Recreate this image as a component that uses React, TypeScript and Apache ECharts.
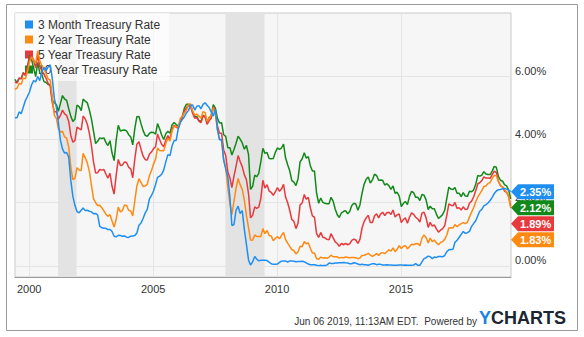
import React, { useEffect, useRef } from 'react';
import * as echarts from 'echarts';

// Monthly observations, Jun 1999 .. Jun 2019 (last = Jun 06 2019)
const seriesNames = ['3 Month Treasury Rate', '2 Year Treasury Rate', '5 Year Treasury Rate', '10 Year Treasury Rate'];
const seriesColors = ['#1f8ef1', '#ff8a12', '#e8393d', '#12891a'];

const rate3m = [
  4.69, 4.69, 4.87, 4.82, 5.02, 5.23, 5.36,
  5.50, 5.73, 5.86, 5.82, 5.99, 5.86, 6.14, 6.28, 6.18, 6.29, 6.36, 5.94,
  5.29, 5.01, 4.54, 3.97, 3.70, 3.57, 3.59, 3.44, 2.69, 2.20, 1.91, 1.72,
  1.68, 1.76, 1.83, 1.75, 1.76, 1.73, 1.71, 1.65, 1.66, 1.61, 1.25, 1.21,
  1.19, 1.19, 1.15, 1.15, 1.09, 0.94, 0.92, 0.97, 0.96, 0.94, 0.95, 0.91,
  0.90, 0.94, 0.95, 0.96, 1.04, 1.29, 1.36, 1.50, 1.68, 1.79, 2.11, 2.22,
  2.37, 2.58, 2.80, 2.84, 2.90, 3.04, 3.29, 3.52, 3.49, 3.79, 3.97, 3.97,
  4.34, 4.54, 4.63, 4.72, 4.84, 4.92, 5.08, 5.09, 4.93, 5.05, 5.07, 4.97,
  5.11, 5.16, 5.08, 5.01, 4.87, 4.74, 4.96, 4.32, 3.99, 4.00, 3.35, 3.07,
  2.82, 2.17, 1.28, 1.31, 1.76, 1.89, 1.66, 1.75, 1.15, 0.69, 0.19, 0.03,
  0.13, 0.30, 0.22, 0.16, 0.18, 0.18, 0.18, 0.17, 0.12, 0.07, 0.05, 0.05,
  0.06, 0.11, 0.15, 0.16, 0.16, 0.12, 0.16, 0.16, 0.15, 0.13, 0.14, 0.14,
  0.15, 0.13, 0.10, 0.06, 0.04, 0.04, 0.04, 0.02, 0.01, 0.02, 0.01, 0.01,
  0.03, 0.09, 0.08, 0.08, 0.09, 0.09, 0.10, 0.10, 0.11, 0.10, 0.09, 0.07,
  0.07, 0.10, 0.09, 0.06, 0.04, 0.05, 0.04, 0.04, 0.02, 0.05, 0.07, 0.07,
  0.04, 0.05, 0.05, 0.03, 0.03, 0.04, 0.03, 0.03, 0.02, 0.02, 0.02, 0.03,
  0.03, 0.02, 0.03, 0.02, 0.02, 0.02, 0.03, 0.07, 0.02, 0.02, 0.13, 0.23,
  0.26, 0.31, 0.29, 0.23, 0.28, 0.27, 0.30, 0.30, 0.29, 0.33, 0.45, 0.51,
  0.52, 0.53, 0.75, 0.81, 0.90, 1.00, 1.09, 1.03, 1.05, 1.09, 1.25, 1.34,
  1.43, 1.59, 1.73, 1.79, 1.90, 1.94, 1.99, 2.07, 2.17, 2.29, 2.37, 2.41,
  2.42, 2.44, 2.45, 2.43, 2.40, 2.35,
];

const rate2y = [
  5.59, 5.62, 5.77, 5.75, 5.94, 5.92, 6.14,
  6.44, 6.61, 6.53, 6.40, 6.81, 6.48, 6.34, 6.23, 6.08, 5.91, 5.88, 5.35,
  4.76, 4.66, 4.34, 4.23, 4.26, 4.08, 4.04, 3.76, 3.12, 2.73, 2.78, 3.11,
  3.03, 3.02, 3.56, 3.42, 3.26, 2.99, 2.56, 2.13, 2.00, 1.91, 1.92, 1.84,
  1.74, 1.63, 1.57, 1.62, 1.42, 1.23, 1.47, 1.86, 1.71, 1.75, 1.93, 1.91,
  1.76, 1.74, 1.58, 2.07, 2.53, 2.76, 2.64, 2.51, 2.53, 2.58, 2.85, 3.01,
  3.22, 3.38, 3.73, 3.65, 3.64, 3.64, 3.87, 4.04, 3.95, 4.27, 4.42, 4.40,
  4.40, 4.67, 4.73, 4.84, 4.92, 5.12, 5.12, 4.90, 4.77, 4.80, 4.74, 4.67,
  4.88, 4.85, 4.57, 4.67, 4.77, 5.00, 4.82, 4.31, 4.01, 3.97, 3.34, 3.12,
  2.48, 1.97, 1.62, 2.05, 2.45, 2.77, 2.57, 2.42, 2.08, 1.61, 1.21, 0.82,
  0.81, 0.98, 0.93, 0.93, 0.93, 1.18, 1.02, 1.12, 0.96, 0.95, 0.80, 0.87,
  0.93, 0.86, 0.96, 1.06, 0.83, 0.72, 0.62, 0.52, 0.48, 0.38, 0.45, 0.62,
  0.61, 0.77, 0.70, 0.73, 0.56, 0.41, 0.41, 0.23, 0.21, 0.28, 0.25, 0.26,
  0.24, 0.28, 0.34, 0.29, 0.29, 0.29, 0.25, 0.27, 0.26, 0.28, 0.27, 0.26,
  0.27, 0.27, 0.26, 0.23, 0.25, 0.33, 0.34, 0.36, 0.40, 0.34, 0.30, 0.34,
  0.39, 0.33, 0.40, 0.42, 0.39, 0.45, 0.51, 0.47, 0.57, 0.45, 0.53, 0.64,
  0.55, 0.62, 0.64, 0.54, 0.61, 0.69, 0.67, 0.70, 0.71, 0.64, 0.88, 0.98,
  0.90, 0.73, 0.88, 0.77, 0.82, 0.73, 0.67, 0.74, 0.77, 0.84, 0.98, 1.20,
  1.21, 1.20, 1.31, 1.24, 1.30, 1.34, 1.37, 1.34, 1.38, 1.55, 1.70, 1.84,
  2.03, 2.18, 2.28, 2.38, 2.51, 2.53, 2.61, 2.64, 2.77, 2.86, 2.86, 2.68,
  2.54, 2.50, 2.41, 2.34, 2.21, 1.83,
];

const rate5y = [
  5.81, 5.79, 5.94, 5.92, 6.11, 6.03, 6.28,
  6.58, 6.68, 6.50, 6.26, 6.69, 6.30, 6.18, 6.06, 5.93, 5.78, 5.70, 5.17,
  4.86, 4.89, 4.64, 4.76, 4.93, 4.81, 4.76, 4.57, 4.12, 3.91, 3.97, 4.39,
  4.34, 4.30, 4.74, 4.65, 4.49, 4.19, 3.81, 3.29, 2.94, 2.95, 3.05, 3.03,
  3.05, 2.90, 2.78, 2.93, 2.52, 2.27, 2.87, 3.37, 3.18, 3.19, 3.29, 3.27,
  3.12, 3.07, 2.79, 3.39, 3.85, 3.93, 3.69, 3.47, 3.36, 3.35, 3.53, 3.60,
  3.71, 3.77, 4.17, 4.00, 3.85, 3.77, 3.98, 4.12, 4.01, 4.33, 4.45, 4.39,
  4.35, 4.57, 4.72, 4.90, 5.00, 5.07, 5.04, 4.82, 4.67, 4.69, 4.58, 4.53,
  4.75, 4.71, 4.48, 4.59, 4.67, 5.03, 4.88, 4.43, 4.20, 4.20, 3.67, 3.49,
  2.98, 2.78, 2.48, 2.84, 3.15, 3.49, 3.30, 3.14, 2.88, 2.73, 2.29, 1.52,
  1.60, 1.87, 1.82, 1.86, 2.13, 2.71, 2.46, 2.57, 2.37, 2.33, 2.23, 2.34,
  2.48, 2.36, 2.43, 2.58, 2.18, 2.00, 1.76, 1.47, 1.41, 1.18, 1.35, 1.93,
  1.99, 2.26, 2.11, 2.17, 1.84, 1.58, 1.54, 1.02, 0.90, 1.06, 0.91, 0.89,
  0.84, 0.83, 1.02, 0.89, 0.76, 0.71, 0.62, 0.71, 0.67, 0.71, 0.67, 0.70,
  0.81, 0.85, 0.82, 0.71, 0.84, 1.20, 1.40, 1.52, 1.60, 1.37, 1.37, 1.58,
  1.65, 1.52, 1.64, 1.70, 1.59, 1.68, 1.70, 1.63, 1.77, 1.55, 1.62, 1.64,
  1.37, 1.47, 1.52, 1.35, 1.54, 1.68, 1.63, 1.54, 1.49, 1.39, 1.67, 1.70,
  1.52, 1.22, 1.38, 1.26, 1.30, 1.17, 1.07, 1.13, 1.18, 1.27, 1.60, 1.96,
  1.92, 1.90, 2.01, 1.82, 1.84, 1.77, 1.87, 1.78, 1.80, 1.98, 2.05, 2.18,
  2.38, 2.60, 2.63, 2.70, 2.82, 2.78, 2.78, 2.77, 2.89, 3.00, 2.95, 2.68,
  2.54, 2.49, 2.37, 2.33, 2.19, 1.89,
];

const rate10y = [
  5.90, 5.79, 5.94, 5.92, 6.11, 6.03, 6.28,
  6.66, 6.52, 6.26, 5.99, 6.44, 6.10, 6.05, 5.83, 5.80, 5.74, 5.72, 5.24,
  5.16, 5.10, 4.89, 5.14, 5.39, 5.28, 5.24, 4.97, 4.73, 4.57, 4.65, 5.09,
  5.04, 4.91, 5.28, 5.21, 5.16, 4.93, 4.65, 4.26, 3.87, 3.94, 4.05, 4.03,
  4.05, 3.90, 3.81, 3.96, 3.57, 3.33, 3.98, 4.45, 4.27, 4.29, 4.30, 4.27,
  4.15, 4.08, 3.83, 4.35, 4.72, 4.73, 4.50, 4.28, 4.13, 4.10, 4.19, 4.23,
  4.22, 4.17, 4.50, 4.34, 4.14, 4.00, 4.18, 4.26, 4.20, 4.46, 4.54, 4.47,
  4.42, 4.57, 4.72, 4.99, 5.11, 5.11, 5.09, 4.88, 4.72, 4.73, 4.60, 4.56,
  4.76, 4.72, 4.56, 4.69, 4.75, 5.10, 5.00, 4.67, 4.52, 4.53, 4.15, 4.10,
  3.74, 3.74, 3.51, 3.68, 3.88, 4.10, 4.01, 3.89, 3.69, 3.81, 3.53, 2.42,
  2.52, 2.87, 2.82, 2.93, 3.29, 3.72, 3.56, 3.59, 3.40, 3.39, 3.40, 3.59,
  3.73, 3.69, 3.73, 3.85, 3.42, 3.20, 3.01, 2.70, 2.65, 2.54, 2.76, 3.29,
  3.39, 3.58, 3.41, 3.46, 3.17, 3.00, 3.00, 2.30, 1.98, 2.15, 2.01, 1.98,
  1.97, 1.97, 2.17, 2.05, 1.80, 1.62, 1.53, 1.68, 1.72, 1.75, 1.65, 1.72,
  1.91, 1.98, 1.96, 1.76, 1.93, 2.30, 2.58, 2.74, 2.81, 2.62, 2.72, 2.90,
  2.86, 2.71, 2.72, 2.71, 2.56, 2.60, 2.54, 2.42, 2.53, 2.30, 2.33, 2.21,
  1.88, 1.98, 2.04, 1.94, 2.20, 2.36, 2.32, 2.17, 2.17, 2.07, 2.26, 2.24,
  2.09, 1.78, 1.89, 1.81, 1.81, 1.64, 1.50, 1.56, 1.63, 1.76, 2.14, 2.49,
  2.43, 2.42, 2.48, 2.30, 2.30, 2.19, 2.32, 2.21, 2.20, 2.36, 2.35, 2.40,
  2.58, 2.86, 2.84, 2.87, 2.98, 2.91, 2.89, 2.89, 3.00, 3.15, 3.12, 2.83,
  2.71, 2.68, 2.57, 2.53, 2.40, 2.12,
];

const recessions = [
  ['2001-03-01', '2001-11-30'],
  ['2007-12-01', '2009-06-30'],
];

const xTickYears = [2000, 2005, 2010, 2015];
const yTickValues = [0, 2, 4, 6];
const xStart = '1999-06-06';
const xEnd = '2019-06-10';
const yMin = -0.35;
const yMax = 8;
const footerText = 'Jun 06 2019, 11:13AM EDT.  Powered by';

function pad(n: number) {
  return n < 10 ? '0' + n : '' + n;
}
function ts(d: string) {
  return new Date(d + 'T00:00:00Z').getTime();
}
// month dates: Jun 1999 onwards, day 6
const dates: string[] = rate3m.map((_, i) => {
  const m = 5 + i;
  const y = 1999 + Math.floor(m / 12);
  return `${y}-${pad((m % 12) + 1)}-06`;
});

const allSeries = [rate3m, rate2y, rate5y, rate10y];
const FONT = '"Liberation Sans", Arial, sans-serif';

export default function App() {
  const ref = useRef<HTMLDivElement>(null);
  useEffect(() => {
    document.body.style.margin = '0';
    if (!ref.current) return;
    const chart = echarts.init(ref.current, null, { renderer: 'svg' });
    const xTicks = xTickYears.map((y) => ts(`${y}-01-01`));

    const staticGraphics: any[] = [
      {
        type: 'rect',
        shape: { x: 6.5, y: 4.5, width: 571, height: 326 },
        style: { fill: 'none', stroke: '#9a9a9a', lineWidth: 1 },
        silent: true,
      },
      {
        type: 'text',
        x: 477,
        y: 321,
        style: {
          text: footerText,
          fill: '#333',
          font: `10px ${FONT}`,
          align: 'right',
          verticalAlign: 'middle',
        },
      },
      {
        type: 'text',
        x: 479,
        y: 318,
        style: {
          text: '{a|Y}{b|CHARTS}',
          verticalAlign: 'middle',
          rich: {
            a: { fill: '#1b82e2', fontWeight: 'bold', fontSize: 18, fontFamily: FONT },
            b: { fill: '#1c2631', fontWeight: 'bold', fontSize: 18, fontFamily: FONT },
          },
        },
      },
    ];

    const option: any = {
      animation: false,
      color: seriesColors,
      textStyle: { fontFamily: FONT },
      grid: {
        left: 15,
        top: 13,
        right: 73,
        bottom: 60,
        show: true,
        backgroundColor: '#f6f6f6',
        borderColor: '#c9c9c9',
        borderWidth: 1,
      },
      legend: {
        left: 15,
        top: 13,
        orient: 'vertical',
        backgroundColor: 'rgba(255,255,255,0.65)',
        padding: [4, 9, 4, 10],
        itemGap: 0,
        itemWidth: 8,
        itemHeight: 8,
        icon: 'rect',
        textStyle: { fontSize: 12, color: '#333', lineHeight: 15 },
        data: seriesNames,
      },
      xAxis: {
        type: 'value',
        min: ts(xStart),
        max: ts(xEnd),
        axisLine: { show: true, onZero: false, lineStyle: { color: '#9a9a9a' } },
        axisTick: { show: false, customValues: xTicks },
        axisLabel: {
          customValues: xTicks,
          formatter: (v: number) => String(new Date(v).getUTCFullYear()),
          color: '#333',
          fontSize: 11,
          margin: 6,
        },
        splitLine: { show: true, lineStyle: { color: '#e4e4e4', width: 1 } },
      },
      yAxis: {
        type: 'value',
        position: 'right',
        min: yMin,
        max: yMax,
        axisLine: { show: false },
        axisTick: { show: false, customValues: yTickValues },
        axisLabel: {
          customValues: yTickValues,
          formatter: (v: number) => v.toFixed(2) + '%',
          color: '#333',
          fontSize: 11,
          margin: 4,
          verticalAlign: 'bottom',
        },
        splitLine: { show: true, lineStyle: { color: '#e4e4e4', width: 1 } },
      },
      series: seriesNames.map((name, si) => ({
        name,
        type: 'line',
        showSymbol: false,
        symbol: 'none',
        z: 10 - si,
        lineStyle: { width: 1.5 },
        data: dates.map((d, i) => [ts(d), allSeries[si][i]]),
        markArea:
          si === 0
            ? {
                silent: true,
                itemStyle: { color: '#e3e3e3' },
                data: recessions.map(([a, b]) => [{ xAxis: ts(a) }, { xAxis: ts(b) }]),
              }
            : undefined,
      })),
      graphic: { elements: staticGraphics },
    };
    chart.setOption(option);

    // End-value tags, positioned through the chart's scales
    const last = dates.length - 1;
    const items = allSeries
      .map((arr, si) => ({
        si,
        v: arr[last],
        p: chart.convertToPixel({ gridIndex: 0 }, [ts(dates[last]), arr[last]]) as number[],
      }))
      .sort((a, b) => b.v - a.v);
    const tagGraphics: any[] = [];
    let prevY = -1e9;
    const x0 = (chart.convertToPixel({ gridIndex: 0 }, [ts(xEnd), 0]) as number[])[0];
    items.forEach((it) => {
      const cy = Math.max(it.p[1], prevY + 16);
      prevY = cy;
      tagGraphics.push({
        type: 'polygon',
        shape: {
          points: [
            [x0, cy],
            [x0 + 7, cy - 7.5],
            [x0 + 43, cy - 7.5],
            [x0 + 43, cy + 7.5],
            [x0 + 7, cy + 7.5],
          ],
        },
        style: { fill: seriesColors[it.si] },
        z: 100,
      });
      tagGraphics.push({
        type: 'text',
        x: x0 + 9,
        y: cy + 0.5,
        z: 101,
        style: {
          text: it.v.toFixed(2) + '%',
          fill: '#fff',
          font: `bold 11px ${FONT}`,
          verticalAlign: 'middle',
        },
      });
    });
    chart.setOption({ graphic: { elements: [...staticGraphics, ...tagGraphics] } });

    return () => chart.dispose();
  }, []);
  return <div ref={ref} style={{ width: 584, height: 337 }} />;
}
